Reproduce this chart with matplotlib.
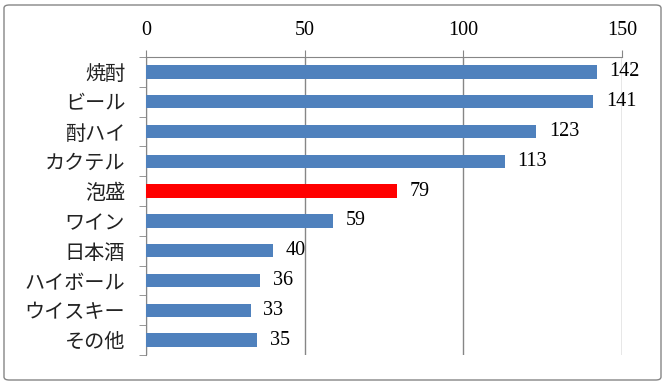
import matplotlib
matplotlib.use("Agg")
import matplotlib.pyplot as plt
from matplotlib.patches import FancyBboxPatch

categories = ["焼酎", "ビール", "酎ハイ", "カクテル", "泡盛", "ワイン", "日本酒", "ハイボール", "ウイスキー", "その他"]
values = [142, 141, 123, 113, 79, 59, 40, 36, 33, 35]
highlight = "泡盛"
xticks = [0, 50, 100, 150]

fig = plt.figure(figsize=(6.66, 3.84), dpi=100)
ax = fig.add_axes([146/666, 1 - 355/384, (622-146)/666, (355-57)/384])

colors = ["#FF0000" if c == highlight else "#4F81BD" for c in categories]
y = list(range(len(categories)))
ax.barh(y, values, height=0.45, color=colors, zorder=3)
ax.set_ylim(len(categories) - 0.5, -0.5)
ax.set_xlim(0, 150)

ax.xaxis.tick_top()
ax.set_xticks(xticks)
ax.set_xticklabels([str(t) for t in xticks], fontfamily="Liberation Serif", fontsize=14.5)
ax.tick_params(axis="x", length=5, color="#868686", pad=7)
ax.grid(axis="x", color="#868686", linewidth=1, zorder=0)

ax.set_yticks(y)
ax.set_yticklabels(categories, fontfamily="Noto Sans CJK JP", fontsize=14.5, color="#222222")
ax.set_yticks([i + 0.5 for i in range(-1, len(categories))], minor=True)
ax.tick_params(axis="y", which="major", length=0, pad=15)
ax.tick_params(axis="y", which="minor", length=5, color="#868686")

for s in ["right", "bottom"]:
    ax.spines[s].set_visible(False)
ax.spines["left"].set_color("#868686")
ax.spines["top"].set_color("#868686")

for yi, v in zip(y, values):
    ax.annotate(str(v), (v, yi), xytext=(9, 0), textcoords="offset points",
                va="center", ha="left", fontfamily="Liberation Serif", fontsize=14.5, zorder=4)

border = FancyBboxPatch((4/666, 4/384), 657/666, 375/384, boxstyle="round,pad=0,rounding_size=0.008",
                        transform=fig.transFigure, fill=False, edgecolor="#868686", linewidth=1)
fig.patches.append(border)

fig.savefig("out.png", dpi=100)
